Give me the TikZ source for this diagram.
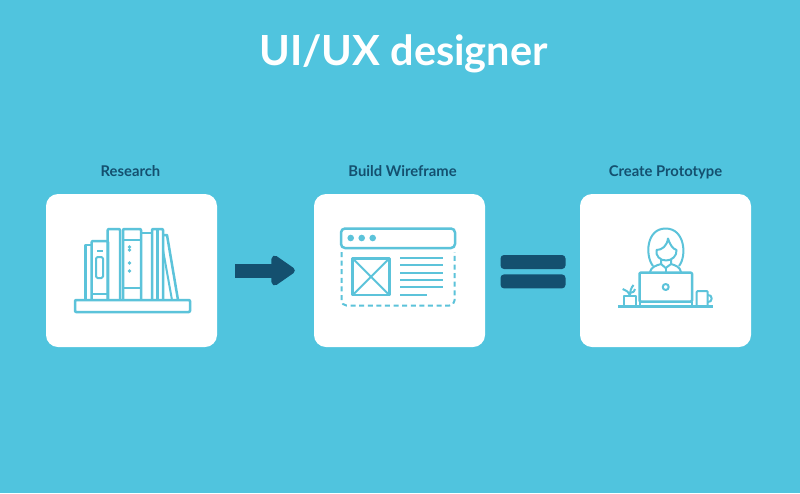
\documentclass[tikz,border=0pt]{standalone}
\usepackage{fontspec}
\setmainfont{Lato}
\usetikzlibrary{arrows.meta,positioning}
\definecolor{skyBack}{HTML}{50C4DE}
\definecolor{inkBlue}{HTML}{14506F}
\definecolor{iconTeal}{HTML}{5CC3DA}
\tikzset{
  panel/.style={fill=white,rounded corners=12pt,minimum width=171pt,minimum height=153pt,inner sep=0pt},
  caption/.style={text=inkBlue,font=\fontsize{14.8}{17}\selectfont\bfseries,inner sep=0pt,text height=11pt,text depth=3pt},
  iconline/.style={draw=iconTeal,line width=2.5pt,line join=round},
  thinline/.style={draw=iconTeal,line width=2pt,line join=round},
  equalbar/.style={fill=inkBlue,rounded corners=3.5pt,minimum width=65pt,minimum height=14pt,inner sep=0pt},
  flowarrow/.style={draw=inkBlue,line width=14pt,-{Triangle[length=26pt,width=34pt,round]},shorten <=18pt,shorten >=19pt}
}

\begin{document}
\begin{tikzpicture}[x=1pt,y=-1pt]
  \fill[skyBack] (0,0) rectangle (800,493);
  \useasboundingbox (0,0) rectangle (800,493);

  \node[text=white,font=\fontsize{41.5}{46}\selectfont\bfseries,inner sep=0pt,anchor=base] (title) at (403.5,65) {UI/UX designer};

  % the three cards with their captions
  \node[panel] (research) at (131.5,270.5) {};
  \node[panel] (wireframe) at (399.5,270.5) {};
  \node[panel] (prototype) at (665.5,270.5) {};
  \node[caption,above=14pt of research,xshift=-1pt] (researchcap) {Research};
  \node[caption,above=14pt of wireframe,xshift=3pt] (wireframecap) {Build Wireframe};
  \node[caption,above=14pt of prototype] (prototypecap) {Create Prototype};

  \draw[flowarrow] (research.east) -- (wireframe.west);
  \node[equalbar] (baru) at (533,262) {};
  \node[equalbar,below=5pt of baru] (bard) {};

  % books on a shelf
  \draw[iconline,rounded corners=1pt] (75,300) rectangle (190,312);
  \draw[iconline] (85.7,300) -- (85.7,245) -- (91.7,245);
  \draw[iconline,rounded corners=1pt] (91.7,300) -- (91.7,241) -- (108,241) -- (108,300);
  \draw[thinline] (92,294) -- (108,294) (97,251) -- (103,251);
  \draw[thinline,rounded corners=1.5pt] (96,257) rectangle (103,278);
  \draw[iconline,rounded corners=1pt] (107.7,300) -- (107.7,229) -- (120,229) -- (120,300);
  \draw[iconline,rounded corners=1pt] (123,300) -- (123,229) -- (141,229) -- (141,300);
  \draw[thinline] (123,240) -- (141,240) (123,288) -- (141,288);
  \foreach \doty in {247,250,263,271}
    \fill[iconTeal] (129.5,\doty) circle (1.8pt);
  \draw[iconline] (141,233) -- (152,233);
  \draw[iconline,rounded corners=1pt] (152,300) -- (152,229) -- (163,229) -- (163,300);
  \draw[iconline] (157.5,229) -- (157.5,300);
  \draw[iconline] (163,235) -- (167,235) -- (178,300);
  \draw[thinline] (163,250) -- (172,300);

  % browser window
  \draw[iconline,rounded corners=4pt] (341,248) -- (341,228.5) -- (455,228.5) -- (455,248) -- cycle;
  \foreach \dotx in {350.7,361.7,372.7}
    \fill[iconTeal] (\dotx,238) circle (3.3pt);
  \draw[thinline,dashed,dash pattern=on 5pt off 3.6pt,rounded corners=5pt] (341.5,252) -- (341.5,305.5) -- (454.5,305.5) -- (454.5,252);
  \draw[iconline] (352.7,258.5) rectangle (389.3,295);
  \draw[thinline] (352.7,258.5) -- (389.3,295) (389.3,258.5) -- (352.7,295);
  \foreach \liney in {258,265.3,272.6,279.9,287.2}
    \draw[thinline] (400,\liney) -- (443,\liney);
  \draw[thinline] (400,294.7) -- (427,294.7);

  % person at a laptop
  \draw[thinline] (653,266) .. controls (645,256) and (646,228.5) .. (665.7,228.5)
    .. controls (685,228.5) and (687,256) .. (679,266);
  \draw[thinline] (656.5,250) .. controls (662,250) and (667,246) .. (668,238.5)
    .. controls (670,245) and (673,249) .. (676.5,250)
    .. controls (677,256) and (672,260.5) .. (666,260.5)
    .. controls (660,260.5) and (655.5,256) .. (656.5,250) -- cycle;
  \draw[thinline] (661,259) -- (661,264) -- (665.7,268) -- (671,264) -- (671,259);
  \draw[thinline] (665.7,268) -- (665.7,272);
  \draw[thinline] (650,272) .. controls (651,267) and (656,265.5) .. (661,264);
  \draw[thinline] (681,272) .. controls (680,267) and (676,265.5) .. (671,264);
  \draw[iconline,rounded corners=1pt,fill=white] (639.5,301.5) -- (639.5,272.7) -- (692,272.7) -- (692,301.5) -- cycle;
  \draw[thinline] (639.5,301.5) -- (639.5,306.7) (692,301.5) -- (692,306.7);
  \draw[thinline] (665.7,287) circle (3pt);
  \draw[iconline] (618,306.7) -- (713,306.7);
  \draw[thinline] (624,296) rectangle (635.7,306.7);
  \draw[thinline] (630,296) .. controls (630,291) and (631,288) .. (633.5,285);
  \draw[thinline] (630,296) .. controls (629,292) and (626,290) .. (622.7,289);
  \draw[thinline] (630,293) .. controls (633,293) and (635,291) .. (635,289);
  \draw[thinline,rounded corners=1pt] (696.7,306.7) -- (696.7,291) -- (707.7,291) -- (707.7,306.7);
  \draw[thinline] (707.7,295) .. controls (713,294) and (713,303) .. (707.7,302);
\end{tikzpicture}
\end{document}
